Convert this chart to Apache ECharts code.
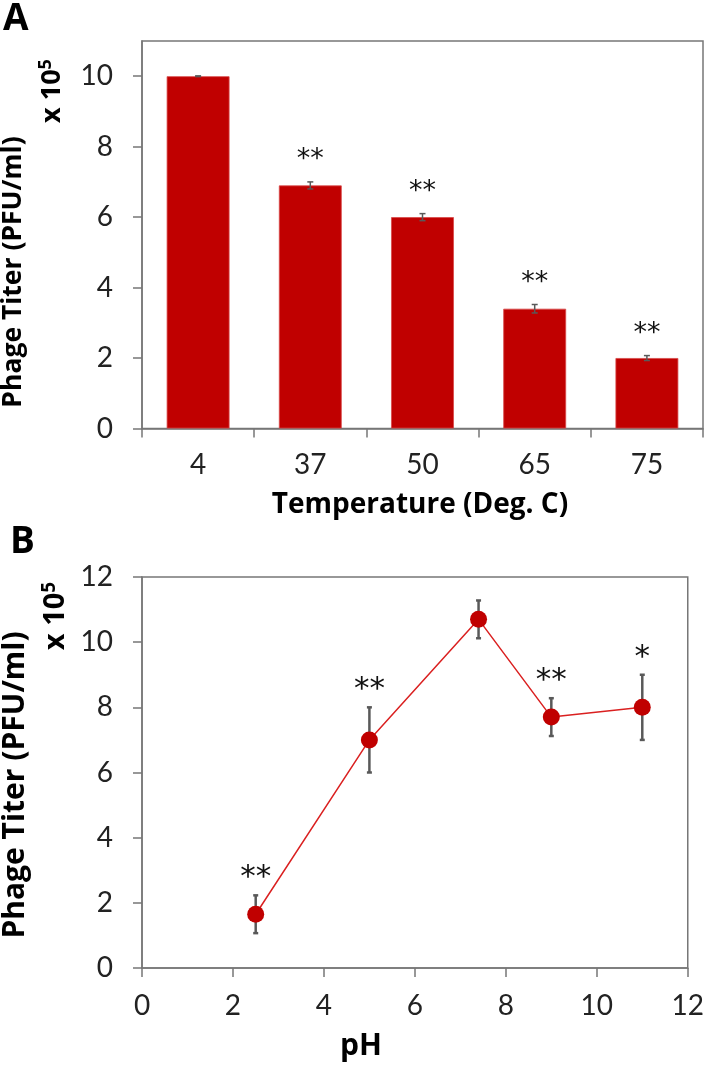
<!DOCTYPE html>
<html><head><meta charset="utf-8">
<script src="https://cdn.jsdelivr.net/npm/echarts@6/dist/echarts.min.js"></script>
<style>html,body{margin:0;padding:0;background:#fff}#c{width:707px;height:1068px}</style>
</head><body><div id="c"></div>
<script>
// Panel A: temperature stability
const tempCategories = ['4', '37', '50', '65', '75'];
const tempTiter = [10.0, 6.9, 6.0, 3.4, 2.0];
const tempErr = [0.01, 0.1, 0.1, 0.12, 0.07];
const tempSig = ['', '**', '**', '**', '**'];
const tempYTicks = [0, 2, 4, 6, 8, 10];

// Panel B: pH stability
const phValues = [2.5, 5, 7.4, 9, 11];
const phTiter = [1.65, 7.0, 10.7, 7.7, 8.0];
const phErr = [0.58, 1.0, 0.58, 0.58, 1.0];
const phSig = ['**', '**', '', '**', '*'];
const phXTicks = [0, 2, 4, 6, 8, 10, 12];
const phYTicks = [0, 2, 4, 6, 8, 10, 12];

const RED = '#C00000';
const AXIS = '#777777';
const TICKFONT = 'Lato, "DejaVu Sans", sans-serif';
const TITLEFONT = '"Open Sans", "DejaVu Sans", sans-serif';

function errRender(sig, o) {
  return function (params, api) {
    const i = params.dataIndex;
    const x = api.value(0), y = api.value(1), e = api.value(2);
    const top = api.coord([x, y + e]);
    const bot = api.coord([x, y - e]);
    const c = o.capHalf;
    const st = { stroke: o.color, lineWidth: o.lw };
    const children = [
      { type: 'line', shape: { x1: top[0], y1: top[1], x2: bot[0], y2: bot[1] }, style: st },
      { type: 'line', shape: { x1: top[0] - c, y1: top[1], x2: top[0] + c, y2: top[1] }, style: st },
      { type: 'line', shape: { x1: bot[0] - c, y1: bot[1], x2: bot[0] + c, y2: bot[1] }, style: st }
    ];
    if (sig[i]) {
      children.push({
        type: 'text', x: top[0], y: top[1] - o.sigOffset,
        style: { text: sig[i], font: o.sigFont, fill: '#111', align: 'center', verticalAlign: 'middle' }
      });
    }
    return { type: 'group', children: children };
  };
}

const axisLine = { show: true, lineStyle: { color: AXIS, width: 1.5 } };
const axisTick = { show: true, inside: false, length: 9, lineStyle: { color: AXIS, width: 1.5 } };
const lbl = (m) => ({ margin: m, fontSize: 28, fontFamily: TICKFONT, color: '#222' });

const chart = echarts.init(document.getElementById('c'), null, { renderer: 'canvas' });
chart.setOption({
  animation: false,
  backgroundColor: '#fff',
  grid: [
    { left: 142, top: 41, width: 561, height: 387.5, show: true, borderColor: AXIS, borderWidth: 1.5, backgroundColor: 'transparent' },
    { left: 142, top: 577, width: 548, height: 391, show: true, borderColor: AXIS, borderWidth: 1.5, backgroundColor: 'transparent' }
  ],
  xAxis: [
    { type: 'category', gridIndex: 0, data: tempCategories, axisLine: axisLine, axisTick: axisTick,
      axisLabel: lbl(22), splitLine: { show: false } },
    { type: 'value', gridIndex: 1, min: 0, max: 12, interval: 2, axisLine: axisLine, axisTick: axisTick,
      axisLabel: Object.assign(lbl(24), { customValues: phXTicks }), splitLine: { show: false } }
  ],
  yAxis: [
    { type: 'value', gridIndex: 0, min: 0, max: 11, interval: 2, axisLine: axisLine,
      axisTick: Object.assign({}, axisTick, { customValues: tempYTicks }),
      axisLabel: Object.assign(lbl(29), { customValues: tempYTicks }), splitLine: { show: false } },
    { type: 'value', gridIndex: 1, min: 0, max: 12, interval: 2, axisLine: axisLine,
      axisTick: Object.assign({}, axisTick, { customValues: phYTicks }),
      axisLabel: Object.assign(lbl(29), { customValues: phYTicks }), splitLine: { show: false } }
  ],
  series: [
    { type: 'bar', xAxisIndex: 0, yAxisIndex: 0, data: tempTiter, barWidth: '56%',
      itemStyle: { color: RED, borderColor: '#d84848', borderWidth: 0.8 }, z: 2 },
    { type: 'custom', xAxisIndex: 0, yAxisIndex: 0, z: 5,
      data: tempCategories.map((c, i) => [i, tempTiter[i], tempErr[i]]),
      renderItem: errRender(tempSig, { capHalf: 3, lw: 1.5, color: '#595959', sigOffset: 22, sigFont: '27px "DejaVu Sans"' }) },
    { type: 'custom', xAxisIndex: 1, yAxisIndex: 1, z: 1,
      data: phValues.map((p, i) => [p, phTiter[i], phErr[i]]),
      renderItem: errRender(phSig, { capHalf: 2.5, lw: 2.5, color: '#595959', sigOffset: 17, sigFont: '31px "DejaVu Sans"' }) },
    { type: 'line', xAxisIndex: 1, yAxisIndex: 1, z: 3,
      data: phValues.map((p, i) => [p, phTiter[i]]),
      symbol: 'circle', symbolSize: 17,
      lineStyle: { color: '#DA2020', width: 1.5 },
      itemStyle: { color: RED, borderColor: RED, borderWidth: 0 } }
  ],
  graphic: [
    { type: 'text', x: 3, y: 1, style: { text: 'A', font: 'bold 37px "Open Sans"', fill: '#000' } },
    { type: 'text', x: 10, y: 524, style: { text: 'B', font: 'bold 37px "Open Sans"', fill: '#000' } },
    { type: 'text', x: 13, y: 272, rotation: Math.PI / 2,
      style: { text: 'Phage Titer (PFU/ml)', font: 'bold 26.5px ' + TITLEFONT, fill: '#000', align: 'center', verticalAlign: 'middle' } },
    { type: 'text', x: 52, y: 91, rotation: Math.PI / 2,
      style: { text: '{n|x 10}{s|5}', fill: '#000', align: 'center', verticalAlign: 'middle',
        rich: { n: { font: 'bold 27px ' + TITLEFONT, fill: '#000' }, s: { font: 'bold 18px ' + TITLEFONT, fill: '#000', verticalAlign: 'top', padding: [0, 0, 12, 0] } } } },
    { type: 'text', x: 420, y: 505,
      style: { text: 'Temperature (Deg. C)', font: 'bold 28px ' + TITLEFONT, fill: '#000', align: 'center', verticalAlign: 'middle' } },
    { type: 'text', x: 15, y: 785, rotation: Math.PI / 2,
      style: { text: 'Phage Titer (PFU/ml)', font: 'bold 30px ' + TITLEFONT, fill: '#000', align: 'center', verticalAlign: 'middle' } },
    { type: 'text', x: 56, y: 616, rotation: Math.PI / 2,
      style: { text: '{n|x 10}{s|5}', fill: '#000', align: 'center', verticalAlign: 'middle',
        rich: { n: { font: 'bold 29px ' + TITLEFONT, fill: '#000' }, s: { font: 'bold 19px ' + TITLEFONT, fill: '#000', verticalAlign: 'top', padding: [0, 0, 13, 0] } } } },
    { type: 'text', x: 361, y: 1046,
      style: { text: 'pH', font: 'bold 30px ' + TITLEFONT, fill: '#000', align: 'center', verticalAlign: 'middle' } }
  ]
});
</script></body></html>
